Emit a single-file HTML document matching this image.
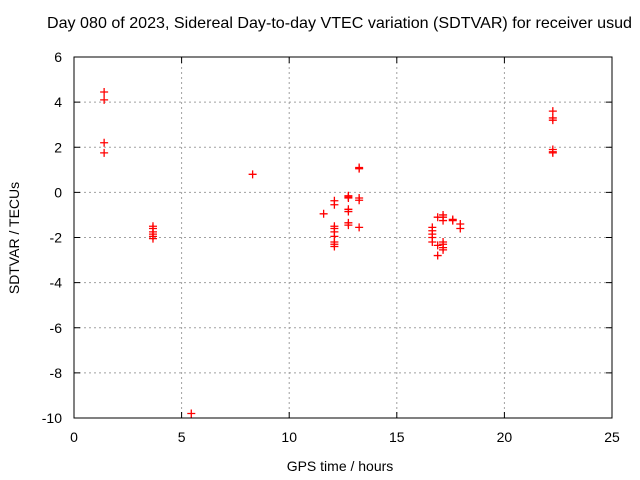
<!DOCTYPE html>
<html><head><meta charset="utf-8"><style>
html,body{margin:0;padding:0;background:#fff;}
svg{display:block;font-family:"Liberation Sans",sans-serif;}
</style></head><body>
<svg id="chart" width="640" height="480">
<text x="47" y="28" font-size="16" textLength="585" lengthAdjust="spacingAndGlyphs">Day 080 of 2023, Sidereal Day-to-day VTEC variation (SDTVAR) for receiver usud</text>
<g id="grid"></g><g id="ticks"></g><g id="pts"></g>
<rect x="74" y="57" width="538" height="361" fill="none" stroke="#000"/>
<text x="340" y="471" font-size="14" text-anchor="middle">GPS time / hours</text>
<text transform="translate(19,238) rotate(-90)" font-size="14" text-anchor="middle">SDTVAR / TECUs</text>
</svg>
<script>
const xTicks=[0,5,10,15,20,25];
const yTicks=[6,4,2,0,-2,-4,-6,-8,-10];
const hours=[1.4,1.4,1.4,1.4,3.67,3.67,3.67,3.67,3.67,3.67,5.45,8.3,11.6,
12.1,12.1,12.1,12.1,12.1,12.1,12.1,12.1,12.1,
12.75,12.75,12.75,12.75,12.75,12.75,12.75,
13.25,13.25,13.25,13.25,13.25,
16.65,16.65,16.65,16.65,16.65,16.9,16.9,16.9,
17.15,17.15,17.15,17.15,17.15,17.15,17.15,17.6,17.6,17.95,17.95,
22.25,22.25,22.25,22.25,22.25,22.25];
const sdtvar=[4.45,4.1,2.2,1.75,-1.5,-1.6,-1.75,-1.85,-1.95,-2.05,-9.8,0.8,-0.95,
-0.37,-0.55,-1.5,-1.6,-1.75,-1.95,-2.2,-2.3,-2.4,
-0.25,-0.15,-0.75,-0.85,-1.35,-1.45,-0.2,
1.05,1.1,-0.25,-0.35,-1.55,
-1.55,-1.7,-1.85,-2.0,-2.2,-1.1,-2.35,-2.8,
-1.0,-1.1,-1.25,-2.2,-2.3,-2.45,-2.55,-1.25,-1.2,-1.4,-1.6,
3.6,3.3,3.2,1.9,1.8,1.75];
const NS="http://www.w3.org/2000/svg";
const X=v=>74+v*538/25, Y=v=>57+(6-v)*361/16;
function mk(t,a,p){const e=document.createElementNS(NS,t);for(const k in a)e.setAttribute(k,a[k]);p.appendChild(e);return e;}
const g=document.getElementById('grid'),tk=document.getElementById('ticks'),pg=document.getElementById('pts');
xTicks.forEach(v=>{
 if(v>0&&v<25){const l=mk('line',{x1:X(v),x2:X(v),y1:57,y2:418,stroke:'#a0a0a0','stroke-dasharray':'2,3'},g);
 
 }
 mk('line',{x1:X(v),x2:X(v),y1:418,y2:412,stroke:'#000'},tk);mk('line',{x1:X(v),x2:X(v),y1:57,y2:63,stroke:'#000'},tk);
 const t=mk('text',{x:X(v),y:442,'font-size':14,'text-anchor':'middle'},tk);t.textContent=v;
 
 
});
yTicks.forEach(v=>{
 if(v<6&&v>-10){const l=mk('line',{x1:74,x2:612,y1:Y(v),y2:Y(v),stroke:'#a0a0a0','stroke-dasharray':'2,3'},g);
 
 }
 mk('line',{x1:74,x2:80,y1:Y(v),y2:Y(v),stroke:'#000'},tk);mk('line',{x1:606,x2:612,y1:Y(v),y2:Y(v),stroke:'#000'},tk);
 const t=mk('text',{x:62,y:Y(v)+5,'font-size':14,'text-anchor':'end'},tk);t.textContent=v;
 
 
});
hours.forEach((h,i)=>{
 const x=X(h),y=Y(sdtvar[i]);
 const p=mk('path',{d:`M${x-4},${y}H${x+4}M${x},${y-4}V${y+4}`,stroke:'#f00','stroke-width':1.3,fill:'none'},pg);
 
 
});
</script>
</body></html>
